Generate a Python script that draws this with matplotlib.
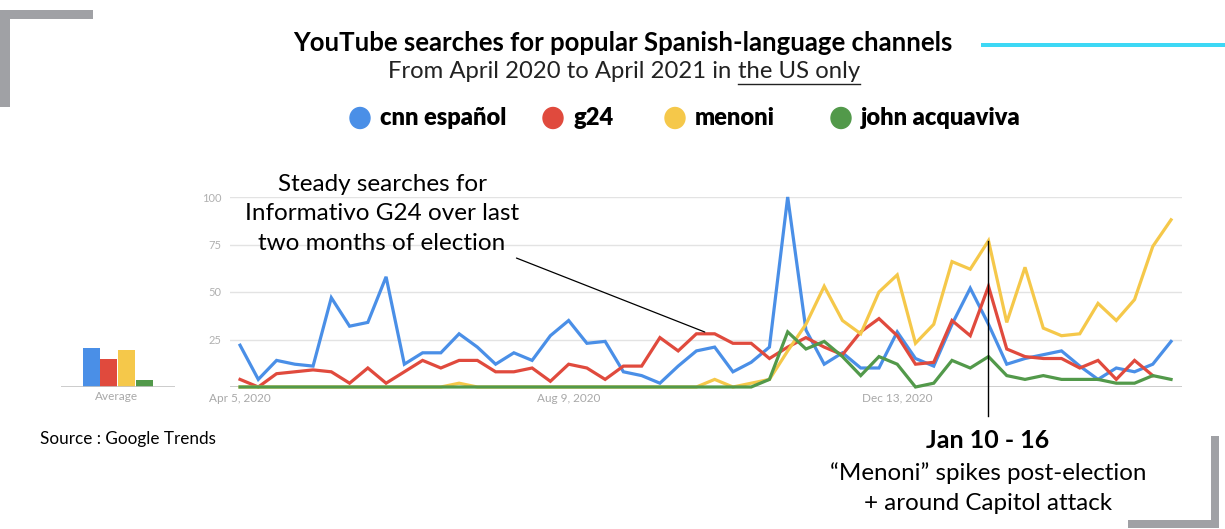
import numpy as np
import matplotlib
matplotlib.use("Agg")
import matplotlib.pyplot as plt
from matplotlib.patches import Rectangle, Ellipse
from matplotlib.lines import Line2D

W, H = 1225, 529

series_names = ["cnn español", "g24", "menoni", "john acquaviva"]
colors = ["#4a8fe7", "#e04a3d", "#f5c84a", "#52994a"]

cnn = [22, 4, 14, 12, 11, 47, 32, 34, 58, 12, 18, 18, 28, 21,
       12, 18, 14, 27, 35, 23, 24, 8, 6, 2, 11, 19, 21, 8, 13,
       21, 100, 30, 12, 18, 10, 10, 29, 15, 11, 33, 52, 33,
       12, 15, 17, 19, 11, 4, 10, 8, 12, 24]
g24 = [4, 0, 7, 8, 9, 8, 2, 10, 2, 8, 14, 10, 14, 14,
       8, 8, 10, 3, 12, 10, 4, 11, 11, 26, 19, 28, 28, 23, 23,
       15, 21, 26, 21, 17, 29, 36, 27, 12, 13, 35, 27, 53,
       20, 16, 15, 15, 10, 14, 4, 14, 6, np.nan]
menoni = [0, 0, 0, 0, 0, 0, 0, 0, 0, 0, 0, 0, 2, 0,
          0, 0, 0, 0, 0, 0, 0, 0, 0, 0, 0, 0, 4, 0, 2,
          4, 19, 33, 53, 35, 28, 50, 59, 23, 33, 66, 62, 77,
          34, 63, 31, 27, 28, 44, 35, 46, 74, 88]
acquaviva = [0, 0, 0, 0, 0, 0, 0, 0, 0, 0, 0, 0, 0, 0,
             0, 0, 0, 0, 0, 0, 0, 0, 0, 0, 0, 0, 0, 0, 0,
             4, 29, 20, 24, 16, 6, 16, 12, 0, 2, 14, 10, 16,
             6, 4, 6, 4, 4, 4, 2, 2, 6, 4]
averages = [20.7, 14.6, 19.6, 3.5]

date_ticks = [0, 18, 36]
date_labels = ["Apr 5, 2020", "Aug 9, 2020", "Dec 13, 2020"]
y_ticks = [25, 50, 75, 100]
spike_week = 41
spike_value = 77

plt.rcParams["font.family"] = ["Lato", "DejaVu Sans"]

fig = plt.figure(figsize=(W / 100, H / 100), dpi=100)


def px_axes(x0, y0, x1, y1):
    # pixel box (top-left origin) -> figure axes
    return fig.add_axes([x0 / W, 1 - y1 / H, (x1 - x0) / W, (y1 - y0) / H])


def ftext(x, y, s, **kw):
    return fig.text(x / W, 1 - y / H, s, **kw)


# main line chart
ax = px_axes(230, 197, 1182, 387)
weeks = np.arange(len(cnn))
for vals, c in zip([cnn, g24, menoni, acquaviva], colors):
    ax.plot(weeks, vals, color=c, lw=2.3, clip_on=False, zorder=3,
            solid_joinstyle="miter")
ax.set_xlim(-0.55, 51.6)
ax.set_ylim(0, 100)
for s in ax.spines.values():
    s.set_visible(False)
for t in y_ticks:
    ax.axhline(t, color="#e3e3e3", lw=1, zorder=1)
ax.axhline(0, color="#c4c4c4", lw=1.2, zorder=2)
ax.set_yticks(y_ticks)
ax.set_yticklabels([str(t) for t in y_ticks], color="#b0b0b0", fontsize=8)
ax.set_xticks(date_ticks)
ax.set_xticklabels(date_labels, color="#a8a8a8", fontsize=8.5)
ax.tick_params(length=0, pad=4)
ax.tick_params(axis="y", pad=6)

# annotations on the chart
ax.plot([spike_week, spike_week], [spike_value, -15], color="black", lw=1,
        clip_on=False, zorder=4)
ax.annotate("", xy=(25.6, 28.4), xytext=(15.0, 68.4),
            arrowprops=dict(arrowstyle="-", lw=0.9, color="black"),
            annotation_clip=False)

# average bars
axb = px_axes(61, 197, 175, 387)
axb.bar(range(4), averages, width=0.95, color=colors)
axb.set_xlim(-1.7, 4.74)
axb.set_ylim(0, 100)
axb.axis("off")
axb.axhline(0, color="#c4c4c4", lw=1.2)
ftext(117, 397, "Average", ha="center", va="center", color="#a8a8a8",
      fontsize=8.5)

# titles
ftext(623, 43, "YouTube searches for popular Spanish-language channels",
      ha="center", va="center", fontsize=18.5, fontweight="bold")
t1 = ftext(388, 72, "From April 2020 to April 2021 in ", ha="left",
           va="center", fontsize=17.2, color="#222222")
fig.canvas.draw()
bb = t1.get_window_extent()
t2 = fig.text(bb.x1 / W, 1 - 72 / H, "the US only", ha="left", va="center",
              fontsize=17.2, color="#222222")
fig.canvas.draw()
b2 = t2.get_window_extent()
fig.lines.append(Line2D([b2.x0 / W, b2.x1 / W], [(b2.y0 - 1) / H] * 2,
                        transform=fig.transFigure, color="#222222", lw=1))

# legend
leg_dots = [360, 553, 675, 841]
for xd, name, c in zip(leg_dots, series_names, colors):
    fig.patches.append(Ellipse((xd / W, 1 - 118 / H), 20 / W, 21 / H,
                               transform=fig.transFigure, color=c))
    ftext(xd + 20, 118, name, ha="left", va="center", fontsize=17,
          fontweight="heavy")

# text notes
ftext(382, 214, "Steady searches for\nInformativo G24 over last\ntwo months of election",
      ha="center", va="center", fontsize=17.5, linespacing=1.5)
ftext(988, 440, "Jan 10 - 16", ha="center", va="center", fontsize=18,
      fontweight="bold")
ftext(988, 488, "\u201cMenoni\u201d spikes post-election\n+ around Capitol attack",
      ha="center", va="center", fontsize=17.4, linespacing=1.5)
ftext(40, 439, "Source : Google Trends", ha="left", va="center", fontsize=12.3)

# decorative frame pieces
gray = "#a0a1a5"
for x0, y0, x1, y1, c in [(0, 10, 93, 19, gray), (0, 10, 10, 107, gray),
                          (1211, 436, 1219, 528, gray), (1128, 520, 1219, 528, gray),
                          (981, 43, 1225, 47, "#3dd8f5")]:
    fig.patches.append(Rectangle((x0 / W, 1 - y1 / H), (x1 - x0) / W,
                                 (y1 - y0) / H, transform=fig.transFigure,
                                 color=c, lw=0))

fig.savefig("out.png", dpi=100)
